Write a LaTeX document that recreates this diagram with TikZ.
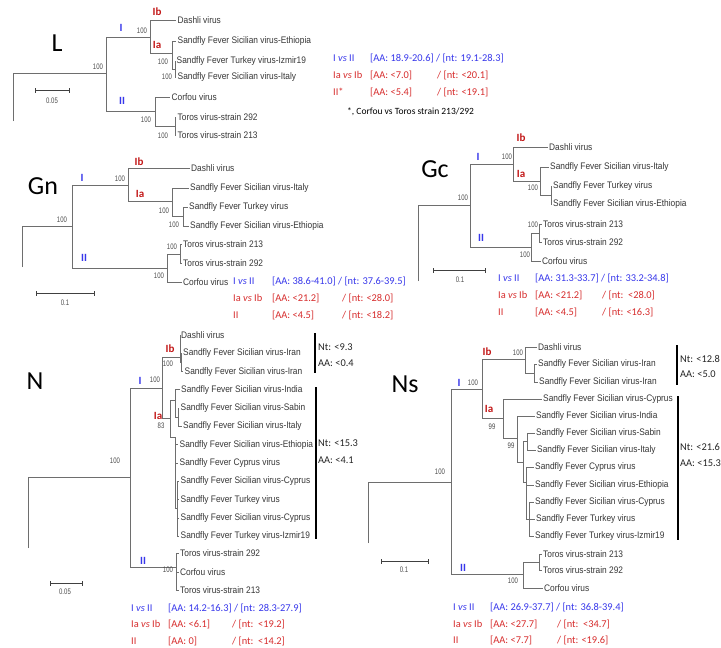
\documentclass[tikz,border=0pt]{standalone}
\usepackage{fontspec}
\setmainfont{Carlito}
\newfontfamily\leaffont[FakeStretch=0.88]{Liberation Sans}
\newfontfamily\bsfam[FakeStretch=0.75]{Liberation Sans}
\newfontfamily\calfont{Carlito}
\definecolor{cblue}{RGB}{55,55,235}
\definecolor{cred}{RGB}{215,45,45}
\definecolor{cdred}{RGB}{195,25,25}
\definecolor{tgray}{RGB}{110,110,110}
\definecolor{ltext}{RGB}{55,55,55}
\tikzset{
  br/.style={draw=tgray, line width=0.85pt},
  leaf/.style={anchor=west, inner sep=1.5pt, text=ltext, font=\leaffont\fontsize{9.5}{10}\selectfont},
  bs/.style={inner sep=0pt, text=black!70, font=\bsfam\fontsize{8}{9}\selectfont},
  cI/.style={inner sep=0pt, text=cblue, font=\calfont\bfseries\fontsize{11}{12}\selectfont},
  cA/.style={inner sep=0pt, text=cdred, font=\calfont\bfseries\fontsize{11}{12}\selectfont},
  stat/.style={anchor=west, inner sep=0pt, font=\calfont\fontsize{10.4}{12}\selectfont},
  sb/.style={draw=black!75, line width=0.9pt},
  bar/.style={draw=black, line width=2.5pt},
  bartext/.style={anchor=west, inner sep=0pt, text=black!85, font=\calfont\fontsize{10.4}{12}\selectfont},
  panel/.style={inner sep=0pt, font=\calfont\fontsize{26}{28}\selectfont}
}
\begin{document}
\begin{tikzpicture}[x=1pt,y=-1pt]
\useasboundingbox (0,0) rectangle (721,648);
\fill[white] (0,0) rectangle (721,648);

%% ================= L =================
\node[panel] (pL) at (57,43) {L};
\coordinate (Lr) at (13,73);
\coordinate (Lre) at (13,121);
\coordinate (L0) at (106,73);
\coordinate (LI) at (150,37);
\coordinate (LII) at (155,111);
\coordinate (LIa) at (172,53);
\coordinate (LS) at (175,69);
\coordinate (LT) at (175,126);
\node[leaf] (Ld) at (176,20) {Dashli virus};
\node[leaf] (Le) at (176,41) {Sandfly Fever Sicilian virus-Ethiopia};
\node[leaf] (Lz) at (175,61) {Sandfly Fever Turkey virus-Izmir19};
\node[leaf] (Li) at (176,77) {Sandfly Fever Sicilian virus-Italy};
\node[leaf] (Lc) at (170,97) {Corfou virus};
\node[leaf] (Lt2) at (176,117) {Toros virus-strain 292};
\node[leaf] (Lt3) at (176,135) {Toros virus-strain 213};
\draw[br] (Lre) -- (Lr) -- (L0);
\draw[br] (L0) |- (LI);
\draw[br] (L0) |- (LII);
\draw[br] (LI) |- (Ld.west);
\draw[br] (LI) |- (LIa);
\draw[br] (LIa) |- (Le.west);
\draw[br] (LIa) |- (LS);
\draw[br] (LS) |- (Lz.west);
\draw[br] (LS) |- (Li.west);
\draw[br] (LII) |- (Lc.west);
\draw[br] (LII) |- (LT);
\draw[br] (LT) |- (Lt2.west);
\draw[br] (LT) |- (Lt3.west);
\node[bs] (bL1) at (98,67) {100};
\node[bs] (bL2) at (142,31) {100};
\node[bs] (bL3) at (163,62) {100};
\node[bs] (bL4) at (167,77) {100};
\node[bs] (bL5) at (146,120) {100};
\node[bs] (bL6) at (163,136) {100};
\node[cI] (cLI) at (121,28) {I};
\node[cI] (cLII) at (122,101) {II};
\node[cA] (cLIb) at (157,12) {Ib};
\node[cA] (cLIa) at (157,45) {Ia};
\coordinate (sLa) at (35,90); \coordinate (sLb) at (69,90);
\draw[sb] (sLa) -- (sLb);
\draw[sb] ([yshift=-2.5pt]sLa) -- ([yshift=2.5pt]sLa);
\draw[sb] ([yshift=-2.5pt]sLb) -- ([yshift=2.5pt]sLb);
\node[bs] (tsL) at (52,101) {0.05};
\node[stat,text=cblue] (L1a) at (333,58) {I \textit{vs} II};
\node[stat,text=cblue] (L1b) at (370,58) {[AA: 18.9-20.6] / [nt: 19.1-28.3]};
\node[stat,text=cred] (L2a) at (333,75) {Ia \textit{vs} Ib};
\node[stat,text=cred] (L2b) at (370,75) {[AA: <7.0]};
\node[stat,text=cred] (L2c) at (437,75) {/ [nt: <20.1]};
\node[stat,text=cred] (L3a) at (333,92) {II*};
\node[stat,text=cred] (L3b) at (370,92) {[AA: <5.4]};
\node[stat,text=cred] (L3c) at (437,92) {/ [nt: <19.1]};
\node[stat,text=black,font=\calfont\fontsize{9.5}{11}\selectfont] (Lfn) at (347,112) {*, Corfou vs Toros strain 213/292};

%% ================= Gn =================
\node[panel] (pGn) at (43,186) {Gn};
\coordinate (Gnr) at (22,226);
\coordinate (Gnre) at (22,267);
\coordinate (Gn0) at (72,226);
\coordinate (GnI) at (128,185);
\coordinate (GnII) at (167,268);
\coordinate (GnIa) at (172,201);
\coordinate (GnS) at (183,216);
\coordinate (GnT) at (180,254);
\node[leaf] (Gnd) at (189.5,168) {Dashli virus};
\node[leaf] (Gni) at (188.5,188) {Sandfly Fever Sicilian virus-Italy};
\node[leaf] (Gnk) at (187.5,207) {Sandfly Fever Turkey virus};
\node[leaf] (Gne) at (188.5,226) {Sandfly Fever Sicilian virus-Ethiopia};
\node[leaf] (Gnt3) at (181.5,244) {Toros virus-strain 213};
\node[leaf] (Gnt2) at (181.5,263) {Toros virus-strain 292};
\node[leaf] (Gnc) at (181.5,282) {Corfou virus};
\draw[br] (Gnre) -- (Gnr) -- (Gn0);
\draw[br] (Gn0) |- (GnI);
\draw[br] (Gn0) |- (GnII);
\draw[br] (GnI) |- (Gnd.west);
\draw[br] (GnI) |- (GnIa);
\draw[br] (GnIa) |- (Gni.west);
\draw[br] (GnIa) |- (GnS);
\draw[br] (GnS) |- (Gnk.west);
\draw[br] (GnS) |- (Gne.west);
\draw[br] (GnII) |- (GnT);
\draw[br] (GnII) |- (Gnc.west);
\draw[br] (GnT) |- (Gnt3.west);
\draw[br] (GnT) |- (Gnt2.west);
\node[bs] (bGn1) at (62,220) {100};
\node[bs] (bGn2) at (120,179) {100};
\node[bs] (bGn3) at (164,211) {100};
\node[bs] (bGn4) at (174,225) {100};
\node[bs] (bGn5) at (159,276) {100};
\node[bs] (bGn6) at (172,247) {100};
\node[cI] (cGnI) at (82,178) {I};
\node[cI] (cGnII) at (84,258) {II};
\node[cA] (cGnIb) at (139,162) {Ib};
\node[cA] (cGnIa) at (140,194) {Ia};
\coordinate (sGna) at (36,293); \coordinate (sGnb) at (94,293);
\draw[sb] (sGna) -- (sGnb);
\draw[sb] ([yshift=-2.5pt]sGna) -- ([yshift=2.5pt]sGna);
\draw[sb] ([yshift=-2.5pt]sGnb) -- ([yshift=2.5pt]sGnb);
\node[bs] (tsGn) at (65,303) {0.1};
\node[stat,text=cblue] (Gn1a) at (233,281) {I \textit{vs} II};
\node[stat,text=cblue] (Gn1b) at (272,281) {[AA: 38.6-41.0] / [nt: 37.6-39.5]};
\node[stat,text=cred] (Gn2a) at (233,298) {Ia \textit{vs} Ib};
\node[stat,text=cred] (Gn2b) at (272,298) {[AA: <21.2]};
\node[stat,text=cred] (Gn2c) at (342,298) {/ [nt: <28.0]};
\node[stat,text=cred] (Gn3a) at (233,315) {II};
\node[stat,text=cred] (Gn3b) at (272,315) {[AA: <4.5]};
\node[stat,text=cred] (Gn3c) at (342,315) {/ [nt: <18.2]};

%% ================= Gc =================
\node[panel] (pGc) at (435,169) {Gc};
\coordinate (Gcr) at (418,205);
\coordinate (Gcre) at (418,281);
\coordinate (Gc0) at (470,205);
\coordinate (GcI) at (513,164);
\coordinate (GcII) at (531,247);
\coordinate (GcIa) at (540,181);
\coordinate (GcS) at (551,195);
\coordinate (GcT) at (539,233);
\node[leaf] (Gcd) at (547.5,147) {Dashli virus};
\node[leaf] (Gci) at (548.5,167) {Sandfly Fever Sicilian virus-Italy};
\node[leaf] (Gck) at (551.5,186) {Sandfly Fever Turkey virus};
\node[leaf] (Gce) at (551.5,204) {Sandfly Fever Sicilian virus-Ethiopia};
\node[leaf] (Gct3) at (541.5,224) {Toros virus-strain 213};
\node[leaf] (Gct2) at (541.5,242) {Toros virus-strain 292};
\node[leaf] (Gcc) at (540.5,261) {Corfou virus};
\draw[br] (Gcre) -- (Gcr) -- (Gc0);
\draw[br] (Gc0) |- (GcI);
\draw[br] (Gc0) |- (GcII);
\draw[br] (GcI) |- (Gcd.west);
\draw[br] (GcI) |- (GcIa);
\draw[br] (GcIa) |- (Gci.west);
\draw[br] (GcIa) |- (GcS);
\draw[br] (GcS) |- (Gck.west);
\draw[br] (GcS) |- (Gce.west);
\draw[br] (GcII) |- (GcT);
\draw[br] (GcII) |- (Gcc.west);
\draw[br] (GcT) |- (Gct3.west);
\draw[br] (GcT) |- (Gct2.west);
\node[bs] (bGc1) at (463,198) {100};
\node[bs] (bGc2) at (507,157) {100};
\node[bs] (bGc3) at (533,188) {100};
\node[bs] (bGc4) at (525,255) {100};
\node[bs] (bGc5) at (533,225) {100};
\node[cI] (cGcI) at (478,157) {I};
\node[cI] (cGcII) at (481,238) {II};
\node[cA] (cGcIb) at (521,138) {Ib};
\node[cA] (cGcIa) at (521,174) {Ia};
\coordinate (sGca) at (433,270); \coordinate (sGcb) at (485,270);
\draw[sb] (sGca) -- (sGcb);
\draw[sb] ([yshift=-2.5pt]sGca) -- ([yshift=2.5pt]sGca);
\draw[sb] ([yshift=-2.5pt]sGcb) -- ([yshift=2.5pt]sGcb);
\node[bs] (tsGc) at (460,280) {0.1};
\node[stat,text=cblue] (Gc1a) at (498,278) {I \textit{vs} II};
\node[stat,text=cblue] (Gc1b) at (535,278) {[AA: 31.3-33.7] / [nt: 33.2-34.8]};
\node[stat,text=cred] (Gc2a) at (498,295) {Ia \textit{vs} Ib};
\node[stat,text=cred] (Gc2b) at (535,295) {[AA: <21.2]};
\node[stat,text=cred] (Gc2c) at (602,295) {/ [nt:\ \ <28.0]};
\node[stat,text=cred] (Gc3a) at (498,312) {II};
\node[stat,text=cred] (Gc3b) at (535,312) {[AA: <4.5]};
\node[stat,text=cred] (Gc3c) at (602,312) {/ [nt: <16.3]};

%% ================= N =================
\node[panel] (pN) at (35,381) {N};
\coordinate (Nr) at (28,477);
\coordinate (Nre) at (28,548);
\coordinate (N0) at (130,477);
\coordinate (NI) at (162,388);
\coordinate (NII) at (176,567);
\coordinate (NIb) at (180,357);
\coordinate (NIr) at (181,362);
\coordinate (NIa) at (170,418);
\coordinate (NA) at (175,400);
\coordinate (NSI) at (178,417);
\coordinate (NB) at (175,437);
\coordinate (NC) at (177,508);
\node[leaf] (Nd) at (179.5,335) {Dashli virus};
\node[leaf] (Nr1) at (181.5,353.3) {Sandfly Fever Sicilian virus-Iran};
\node[leaf] (Nr2) at (183,371.6) {Sandfly Fever Sicilian virus-Iran};
\node[leaf] (Ni) at (179.5,389.9) {Sandfly Fever Sicilian virus-India};
\node[leaf] (Nsab) at (179,408.2) {Sandfly Fever Sicilian virus-Sabin};
\node[leaf] (Nit) at (181.5,426.5) {Sandfly Fever Sicilian virus-Italy};
\node[leaf] (Ne) at (178,444.8) {Sandfly Fever Sicilian virus-Ethiopia};
\node[leaf] (Ncv) at (178,463.1) {Sandfly Fever Cyprus virus};
\node[leaf] (Ncy1) at (179,481.4) {Sandfly Fever Sicilian virus-Cyprus};
\node[leaf] (Ntk) at (179,499.7) {Sandfly Fever Turkey virus};
\node[leaf] (Ncy2) at (179,518) {Sandfly Fever Sicilian virus-Cyprus};
\node[leaf] (Niz) at (179,536.3) {Sandfly Fever Turkey virus-Izmir19};
\node[leaf] (Nt2) at (178.5,553) {Toros virus-strain 292};
\node[leaf] (Nco) at (178.5,572) {Corfou virus};
\node[leaf] (Nt3) at (178.5,590) {Toros virus-strain 213};
\draw[br] (Nre) -- (Nr) -- (N0);
\draw[br] (N0) |- (NI);
\draw[br] (N0) |- (NII);
\draw[br] (NI) |- (NIb);
\draw[br] (NI) |- (NIa);
\draw[br] (NIb) |- (Nd.west);
\draw[br] (NIb) |- (NIr);
\draw[br] (NIr) |- (Nr1.west);
\draw[br] (NIr) |- (Nr2.west);
\draw[br] (NIa) |- (NA);
\draw[br] (NIa) |- (NB);
\draw[br] (NA) |- (Ni.west);
\draw[br] (NA) |- (NSI);
\draw[br] (NSI) |- (Nsab.west);
\draw[br] (NSI) |- (Nit.west);
\draw[br] (NB) |- (Ne.west);
\draw[br] (NB) |- (Ncv.west);
\draw[br] (NB) |- (NC);
\draw[br] (NC) |- (Ncy1.west);
\draw[br] (NC) |- (Ntk.west);
\draw[br] (NC) |- (Ncy2.west);
\draw[br] (NC) |- (Niz.west);
\draw[br] (NII) |- (Nt2.west);
\draw[br] (NII) |- (Nco.west);
\draw[br] (NII) |- (Nt3.west);
\node[bs] (bN1) at (115,461) {100};
\node[bs] (bN2) at (155,380) {100};
\node[bs] (bN3) at (168,364) {100};
\node[bs] (bN4) at (161,426) {83};
\node[bs] (bN5) at (168,570) {100};
\node[cI] (cNI) at (140,381) {I};
\node[cI] (cNII) at (143,561) {II};
\node[cA] (cNIb) at (170,349) {Ib};
\node[cA] (cNIa) at (158,416) {Ia};
\coordinate (bN1a) at (315,333); \coordinate (bN1b) at (315,373);
\draw[bar] (bN1a) -- (bN1b);
\coordinate (bN2a) at (316,387); \coordinate (bN2b) at (316,539);
\draw[bar] (bN2a) -- (bN2b);
\node[bartext] (Nb1) at (318,347) {Nt: <9.3};
\node[bartext] (Nb2) at (318,363) {AA: <0.4};
\node[bartext] (Nb3) at (318,443) {Nt: <15.3};
\node[bartext] (Nb4) at (318,460) {AA: <4.1};
\coordinate (sNa) at (50,583); \coordinate (sNb) at (82,583);
\draw[sb] (sNa) -- (sNb);
\draw[sb] ([yshift=-2.5pt]sNa) -- ([yshift=2.5pt]sNa);
\draw[sb] ([yshift=-2.5pt]sNb) -- ([yshift=2.5pt]sNb);
\node[bs] (tsN) at (65,592) {0.05};
\node[stat,text=cblue] (N1a) at (131,608) {I \textit{vs} II};
\node[stat,text=cblue] (N1b) at (168,608) {[AA: 14.2-16.3] / [nt: 28.3-27.9]};
\node[stat,text=cred] (N2a) at (131,624) {Ia \textit{vs} Ib};
\node[stat,text=cred] (N2b) at (168,624) {[AA: <6.1]};
\node[stat,text=cred] (N2c) at (232,624) {/ [nt:\ \ <19.2]};
\node[stat,text=cred] (N3a) at (131,641) {II};
\node[stat,text=cred] (N3b) at (168,641) {[AA: 0]};
\node[stat,text=cred] (N3c) at (232,641) {/ [nt:\ \ <14.2]};

%% ================= Ns =================
\node[panel] (pNs) at (405,384) {Ns};
\coordinate (Nsr) at (368,482);
\coordinate (Nsre) at (368,543);
\coordinate (Ns0) at (451,482);
\coordinate (NsI) at (482,389);
\coordinate (NsII) at (523,574);
\coordinate (NsIb) at (525,359);
\coordinate (NsIr) at (534,373);
\coordinate (NsIa) at (503,418);
\coordinate (NsC) at (517,438);
\coordinate (NsD) at (523,462);
\coordinate (NsSI) at (527,441.5);
\coordinate (NsE) at (526,482);
\coordinate (NsF) at (529,519);
\coordinate (NsT) at (539,562);
\node[leaf] (Nsd) at (536.5,347) {Dashli virus};
\node[leaf] (Nsr1) at (536.5,364.5) {Sandfly Fever Sicilian virus-Iran};
\node[leaf] (Nsr2) at (537.5,382) {Sandfly Fever Sicilian virus-Iran};
\node[leaf] (Nsc1) at (541.5,399) {Sandfly Fever Sicilian virus-Cyprus};
\node[leaf] (Nsi) at (534.5,416) {Sandfly Fever Sicilian virus-India};
\node[leaf] (Nss) at (534.5,433) {Sandfly Fever Sicilian virus-Sabin};
\node[leaf] (Nsit) at (535.5,450) {Sandfly Fever Sicilian virus-Italy};
\node[leaf] (Nscv) at (533.5,467) {Sandfly Fever Cyprus virus};
\node[leaf] (Nse) at (533.5,485) {Sandfly Fever Sicilian virus-Ethiopia};
\node[leaf] (Nscy) at (533.5,502) {Sandfly Fever Sicilian virus-Cyprus};
\node[leaf] (Nstk) at (534.5,519) {Sandfly Fever Turkey virus};
\node[leaf] (Nsiz) at (533.5,536) {Sandfly Fever Turkey virus-Izmir19};
\node[leaf] (Nst3) at (541.5,554) {Toros virus-strain 213};
\node[leaf] (Nst2) at (541.5,570) {Toros virus-strain 292};
\node[leaf] (Nsco) at (542.5,588) {Corfou virus};
\draw[br] (Nsre) -- (Nsr) -- (Ns0);
\draw[br] (Ns0) |- (NsI);
\draw[br] (Ns0) |- (NsII);
\draw[br] (NsI) |- (NsIb);
\draw[br] (NsI) |- (NsIa);
\draw[br] (NsIb) |- (Nsd.west);
\draw[br] (NsIb) |- (NsIr);
\draw[br] (NsIr) |- (Nsr1.west);
\draw[br] (NsIr) |- (Nsr2.west);
\draw[br] (NsIa) |- (Nsc1.west);
\draw[br] (NsIa) |- (NsC);
\draw[br] (NsC) |- (Nsi.west);
\draw[br] (NsC) |- (NsD);
\draw[br] (NsD) |- (NsSI);
\draw[br] (NsD) |- (NsE);
\draw[br] (NsSI) |- (Nss.west);
\draw[br] (NsSI) |- (Nsit.west);
\draw[br] (NsE) |- (Nscv.west);
\draw[br] (NsE) |- (Nse.west);
\draw[br] (NsE) |- (NsF);
\draw[br] (NsF) |- (Nscy.west);
\draw[br] (NsF) |- (Nstk.west);
\draw[br] (NsF) |- (Nsiz.west);
\draw[br] (NsII) |- (NsT);
\draw[br] (NsII) |- (Nsco.west);
\draw[br] (NsT) |- (Nst3.west);
\draw[br] (NsT) |- (Nst2.west);
\node[bs] (bNs1) at (440,472) {100};
\node[bs] (bNs2) at (473,383) {100};
\node[bs] (bNs3) at (518,353) {100};
\node[bs] (bNs4) at (492,427) {99};
\node[bs] (bNs5) at (511,446) {99};
\node[bs] (bNs6) at (513,581) {100};
\node[cI] (cNsI) at (459,383) {I};
\node[cI] (cNsII) at (463,568) {II};
\node[cA] (cNsIb) at (487,352) {Ib};
\node[cA] (cNsIa) at (489,409) {Ia};
\coordinate (bNs1a) at (677,345); \coordinate (bNs1b) at (677,385);
\draw[bar] (bNs1a) -- (bNs1b);
\coordinate (bNs2a) at (678,396); \coordinate (bNs2b) at (678,540);
\draw[bar] (bNs2a) -- (bNs2b);
\node[bartext] (Nsb1) at (680,359) {Nt: <12.8};
\node[bartext] (Nsb2) at (680,374) {AA: <5.0};
\node[bartext] (Nsb3) at (680,447) {Nt: <21.6};
\node[bartext] (Nsb4) at (680,463) {AA: <15.3};
\coordinate (sNsa) at (381,561); \coordinate (sNsb) at (428,561);
\draw[sb] (sNsa) -- (sNsb);
\draw[sb] ([yshift=-2.5pt]sNsa) -- ([yshift=2.5pt]sNsa);
\draw[sb] ([yshift=-2.5pt]sNsb) -- ([yshift=2.5pt]sNsb);
\node[bs] (tsNs) at (404,570) {0.1};
\node[stat,text=cblue] (Ns1a) at (453,607) {I \textit{vs} II};
\node[stat,text=cblue] (Ns1b) at (490,607) {[AA: 26.9-37.7] / [nt: 36.8-39.4]};
\node[stat,text=cred] (Ns2a) at (453,624) {Ia \textit{vs} Ib};
\node[stat,text=cred] (Ns2b) at (490,624) {[AA: <27.7]};
\node[stat,text=cred] (Ns2c) at (557,624) {/ [nt:\ \ <34.7]};
\node[stat,text=cred] (Ns3a) at (453,640) {II};
\node[stat,text=cred] (Ns3b) at (490,640) {[AA: <7.7]};
\node[stat,text=cred] (Ns3c) at (557,640) {/ [nt: <19.6]};
\end{tikzpicture}
\end{document}
